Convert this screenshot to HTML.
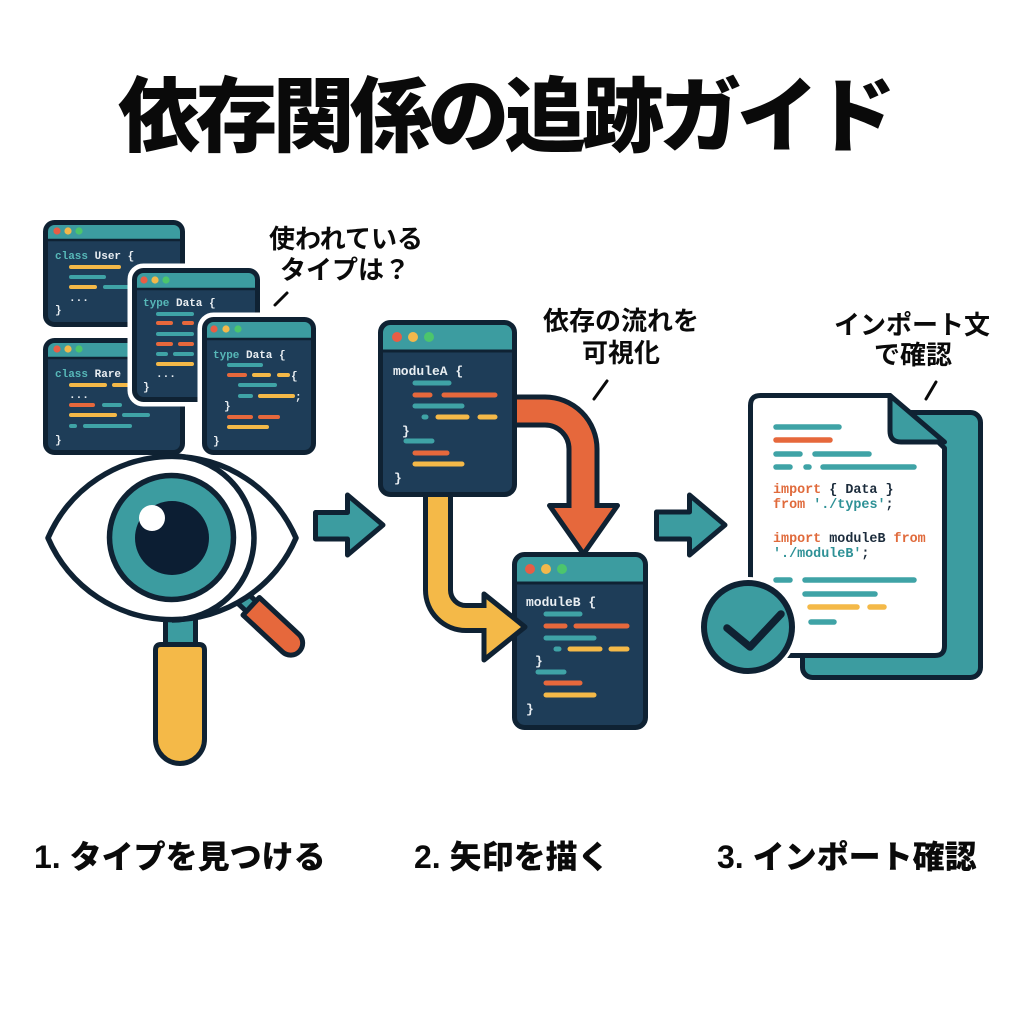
<!DOCTYPE html>
<html><head><meta charset="utf-8"><style>
html,body{margin:0;padding:0;background:#fff;}
svg{display:block;}
.jp{font-family:"Liberation Sans","Noto Sans CJK JP",sans-serif;}
.mono{font-family:"Liberation Mono","DejaVu Sans Mono",monospace;font-weight:bold;}
</style></head><body>
<svg width="1024" height="1024" viewBox="0 0 1024 1024" xmlns="http://www.w3.org/2000/svg">
<defs>
<clipPath id="c1"><rect x="45.5" y="222.5" width="137" height="102" rx="9"/></clipPath>
<clipPath id="c2"><rect x="45.5" y="340.5" width="137" height="112" rx="9"/></clipPath>
<clipPath id="c3"><rect x="134.5" y="270.5" width="123" height="129" rx="9"/></clipPath>
<clipPath id="c4"><rect x="204.5" y="319.5" width="109" height="133" rx="9"/></clipPath>
<clipPath id="ca"><rect x="380.5" y="322.5" width="134" height="172" rx="10"/></clipPath>
<clipPath id="cb"><rect x="514.5" y="554.5" width="131" height="173" rx="10"/></clipPath>
</defs>
<rect width="1024" height="1024" fill="#ffffff"/>

<!-- Title -->
<text class="jp" x="118" y="145" font-size="82" font-weight="900" fill="#0a0a0a" textLength="778" lengthAdjust="spacing">依存関係の追跡ガイド</text>

<!-- ===== Window 1 ===== -->
<g clip-path="url(#c1)">
<rect x="45.5" y="222.5" width="137" height="102" fill="#1e3d58"/>
<rect x="45.5" y="222.5" width="137" height="17.5" fill="#3c9ca0"/>
<line x1="44" y1="240" x2="184" y2="240" stroke="#0f2233" stroke-width="2.5"/>
</g>
<rect x="45.5" y="222.5" width="137" height="102" rx="9" fill="none" stroke="#0f2233" stroke-width="5"/>
<circle cx="57" cy="231" r="3.6" fill="#e85d45"/><circle cx="68" cy="231" r="3.6" fill="#f2b84b"/><circle cx="79" cy="231" r="3.6" fill="#4cc56c"/>
<text class="mono" x="55" y="259" font-size="11" fill="#e9eef2"><tspan fill="#57b8b8">class</tspan> User {</text>
<g stroke-linecap="round" stroke-width="4">
<line x1="71" y1="267" x2="119" y2="267" stroke="#f4b948"/>
<line x1="71" y1="277" x2="104" y2="277" stroke="#3fa3a6"/>
<line x1="71" y1="287" x2="95" y2="287" stroke="#f4b948"/>
<line x1="105" y1="287" x2="127" y2="287" stroke="#3fa3a6"/>
</g>
<text class="mono" x="69" y="301" font-size="11" fill="#e9eef2">...</text>
<text class="mono" x="55" y="313" font-size="11" fill="#e9eef2">}</text>

<!-- ===== Window 2 ===== -->
<g clip-path="url(#c2)">
<rect x="45.5" y="340.5" width="137" height="112" fill="#1e3d58"/>
<rect x="45.5" y="340.5" width="137" height="17.5" fill="#3c9ca0"/>
<line x1="44" y1="358" x2="184" y2="358" stroke="#0f2233" stroke-width="2.5"/>
</g>
<rect x="45.5" y="340.5" width="137" height="112" rx="9" fill="none" stroke="#0f2233" stroke-width="5"/>
<circle cx="57" cy="349" r="3.6" fill="#e85d45"/><circle cx="68" cy="349" r="3.6" fill="#f2b84b"/><circle cx="79" cy="349" r="3.6" fill="#4cc56c"/>
<text class="mono" x="55" y="377" font-size="11" fill="#e9eef2"><tspan fill="#57b8b8">class</tspan> Rare</text>
<g stroke-linecap="round" stroke-width="4">
<line x1="71" y1="385" x2="105" y2="385" stroke="#f4b948"/>
<line x1="114" y1="385" x2="128" y2="385" stroke="#f4b948"/>
<line x1="71" y1="405" x2="93" y2="405" stroke="#e6683c"/>
<line x1="104" y1="405" x2="120" y2="405" stroke="#3fa3a6"/>
<line x1="71" y1="415" x2="115" y2="415" stroke="#f4b948"/>
<line x1="124" y1="415" x2="148" y2="415" stroke="#3fa3a6"/>
<line x1="71" y1="426" x2="75" y2="426" stroke="#3fa3a6"/>
<line x1="85" y1="426" x2="130" y2="426" stroke="#3fa3a6"/>
</g>
<text class="mono" x="69" y="398" font-size="11" fill="#e9eef2">...</text>
<text class="mono" x="55" y="443" font-size="11" fill="#e9eef2">}</text>

<!-- ===== Window 3 ===== -->
<rect x="134.5" y="270.5" width="123" height="129" rx="9" fill="#fff" stroke="#fff" stroke-width="14"/>
<g clip-path="url(#c3)">
<rect x="134.5" y="270.5" width="123" height="129" fill="#1e3d58"/>
<rect x="134.5" y="270.5" width="123" height="18.5" fill="#3c9ca0"/>
<line x1="133" y1="289" x2="259" y2="289" stroke="#0f2233" stroke-width="2.5"/>
</g>
<rect x="134.5" y="270.5" width="123" height="129" rx="9" fill="none" stroke="#0f2233" stroke-width="5"/>
<circle cx="144" cy="280" r="3.6" fill="#e85d45"/><circle cx="155" cy="280" r="3.6" fill="#f2b84b"/><circle cx="166" cy="280" r="3.6" fill="#4cc56c"/>
<text class="mono" x="143" y="306" font-size="11" fill="#e9eef2"><tspan fill="#57b8b8">type</tspan> Data {</text>
<g stroke-linecap="round" stroke-width="4">
<line x1="158" y1="314" x2="192" y2="314" stroke="#3fa3a6"/>
<line x1="158" y1="323" x2="171" y2="323" stroke="#e6683c"/>
<line x1="184" y1="323" x2="192" y2="323" stroke="#e6683c"/>
<line x1="158" y1="334" x2="192" y2="334" stroke="#3fa3a6"/>
<line x1="158" y1="344" x2="171" y2="344" stroke="#e6683c"/>
<line x1="180" y1="344" x2="192" y2="344" stroke="#e6683c"/>
<line x1="158" y1="354" x2="166" y2="354" stroke="#3fa3a6"/>
<line x1="175" y1="354" x2="192" y2="354" stroke="#3fa3a6"/>
<line x1="158" y1="364" x2="192" y2="364" stroke="#f4b948"/>
</g>
<text class="mono" x="156" y="377" font-size="11" fill="#e9eef2">...</text>
<text class="mono" x="143" y="390" font-size="11" fill="#e9eef2">}</text>

<!-- ===== Window 4 ===== -->
<rect x="204.5" y="319.5" width="109" height="133" rx="9" fill="#fff" stroke="#fff" stroke-width="14"/>
<g clip-path="url(#c4)">
<rect x="204.5" y="319.5" width="109" height="133" fill="#1e3d58"/>
<rect x="204.5" y="319.5" width="109" height="19.5" fill="#3c9ca0"/>
<line x1="203" y1="339" x2="315" y2="339" stroke="#0f2233" stroke-width="2.5"/>
</g>
<rect x="204.5" y="319.5" width="109" height="133" rx="9" fill="none" stroke="#0f2233" stroke-width="5"/>
<circle cx="214" cy="329" r="3.6" fill="#e85d45"/><circle cx="226" cy="329" r="3.6" fill="#f2b84b"/><circle cx="238" cy="329" r="3.6" fill="#4cc56c"/>
<text class="mono" x="213" y="358" font-size="11" fill="#e9eef2"><tspan fill="#57b8b8">type</tspan> Data {</text>
<g stroke-linecap="round" stroke-width="4">
<line x1="229" y1="365" x2="261" y2="365" stroke="#3fa3a6"/>
<line x1="229" y1="375" x2="245" y2="375" stroke="#e6683c"/>
<line x1="254" y1="375" x2="269" y2="375" stroke="#f4b948"/>
<line x1="279" y1="375" x2="288" y2="375" stroke="#f4b948"/>
<line x1="240" y1="385" x2="275" y2="385" stroke="#3fa3a6"/>
<line x1="240" y1="396" x2="251" y2="396" stroke="#3fa3a6"/>
<line x1="260" y1="396" x2="293" y2="396" stroke="#f4b948"/>
<line x1="229" y1="417" x2="251" y2="417" stroke="#e6683c"/>
<line x1="260" y1="417" x2="278" y2="417" stroke="#e6683c"/>
<line x1="229" y1="427" x2="267" y2="427" stroke="#f4b948"/>
</g>
<text class="mono" x="291" y="379" font-size="11" fill="#e9eef2">{</text>
<text class="mono" x="295" y="400" font-size="11" fill="#e9eef2">;</text>
<text class="mono" x="224" y="409" font-size="11" fill="#e9eef2">}</text>
<text class="mono" x="213" y="444" font-size="11" fill="#e9eef2">}</text>

<!-- ===== Eye / magnifier ===== -->
<!-- orange side handle -->
<g transform="translate(238,594) rotate(43)">
<rect x="-2" y="-7" width="22" height="14" fill="#3c9ca0" stroke="#0f2233" stroke-width="5"/>
<path d="M18 -12 H72 A12 12 0 0 1 72 12 H18 Z" fill="#e6683c" stroke="#0f2233" stroke-width="5" stroke-linejoin="round"/>
</g>
<!-- vertical handle -->
<rect x="165.5" y="612" width="30" height="34" fill="#3c9ca0" stroke="#0f2233" stroke-width="5"/>
<path d="M155.5 650 Q155.5 644.5 161 644.5 H199 Q204.5 644.5 204.5 650 V739 A24.5 24.5 0 0 1 155.5 739 Z" fill="#f4b948" stroke="#0f2233" stroke-width="5" stroke-linejoin="round"/>
<!-- almond -->
<path d="M48 538 A135 135 0 0 1 296 538 A135 135 0 0 1 48 538 Z" fill="#fff" stroke="#0f2233" stroke-width="5.5" stroke-linejoin="round"/>
<!-- lens right arc -->
<path d="M172 456 A82 82 0 0 1 172 620" fill="none" stroke="#0f2233" stroke-width="5.5"/>
<!-- iris -->
<circle cx="171.5" cy="537.5" r="62" fill="#3c9ca0" stroke="#0f2233" stroke-width="5.5"/>
<circle cx="172" cy="538" r="37" fill="#0c1e33"/>
<circle cx="152" cy="518" r="13" fill="#ffffff"/>

<!-- Teal arrows -->
<path d="M315.5 512.5 H347.5 V495 L383 525 L347.5 555 V539 H315.5 Z" fill="#3c9ca0" stroke="#0f2233" stroke-width="5" stroke-linejoin="round"/>
<path d="M656.5 512 H689.5 V495 L725 525 L689.5 555 V539 H656.5 Z" fill="#3c9ca0" stroke="#0f2233" stroke-width="5" stroke-linejoin="round"/>

<!-- ===== moduleB ===== -->
<g clip-path="url(#cb)">
<rect x="514.5" y="554.5" width="131" height="173" fill="#1e3d58"/>
<rect x="514.5" y="554.5" width="131" height="28.5" fill="#3c9ca0"/>
<line x1="513" y1="583" x2="647" y2="583" stroke="#0f2233" stroke-width="3"/>
</g>
<rect x="514.5" y="554.5" width="131" height="173" rx="10" fill="none" stroke="#0f2233" stroke-width="5"/>
<circle cx="530" cy="569" r="5" fill="#e85d45"/><circle cx="546" cy="569" r="5" fill="#f2b84b"/><circle cx="562" cy="569" r="5" fill="#4cc56c"/>
<text class="mono" x="526" y="606" font-size="13" fill="#e9eef2">moduleB {</text>
<g stroke-linecap="round" stroke-width="5">
<line x1="546" y1="614" x2="580" y2="614" stroke="#3fa3a6"/>
<line x1="546" y1="626" x2="565" y2="626" stroke="#e6683c"/>
<line x1="576" y1="626" x2="627" y2="626" stroke="#e6683c"/>
<line x1="546" y1="638" x2="594" y2="638" stroke="#3fa3a6"/>
<line x1="556" y1="649" x2="559" y2="649" stroke="#3fa3a6"/>
<line x1="570" y1="649" x2="600" y2="649" stroke="#f4b948"/>
<line x1="611" y1="649" x2="627" y2="649" stroke="#f4b948"/>
<line x1="538" y1="672" x2="564" y2="672" stroke="#3fa3a6"/>
<line x1="546" y1="683" x2="580" y2="683" stroke="#e6683c"/>
<line x1="546" y1="695" x2="594" y2="695" stroke="#f4b948"/>
</g>
<text class="mono" x="535" y="665" font-size="13" fill="#e9eef2">}</text>
<text class="mono" x="526" y="713" font-size="13" fill="#e9eef2">}</text>

<!-- Orange arrow -->
<path d="M510 411 H545 A38 38 0 0 1 583 449 V507" fill="none" stroke="#0f2233" stroke-width="33"/>
<polygon points="549.5,505.5 617.5,505.5 583.5,554" fill="#e6683c" stroke="#0f2233" stroke-width="5" stroke-linejoin="round"/>
<path d="M510 411 H545 A38 38 0 0 1 583 449 V512" fill="none" stroke="#e6683c" stroke-width="23"/>

<!-- Yellow arrow -->
<path d="M438 488 V590 A28 28 0 0 0 466 618 H487" fill="none" stroke="#0f2233" stroke-width="30"/>
<polygon points="484,594 484,660 525,627" fill="#f4b948" stroke="#0f2233" stroke-width="5" stroke-linejoin="round"/>
<path d="M438 488 V590 A28 28 0 0 0 466 618 H492" fill="none" stroke="#f4b948" stroke-width="20"/>

<!-- ===== moduleA ===== -->
<g clip-path="url(#ca)">
<rect x="380.5" y="322.5" width="134" height="172" fill="#1e3d58"/>
<rect x="380.5" y="322.5" width="134" height="28.5" fill="#3c9ca0"/>
<line x1="379" y1="351" x2="516" y2="351" stroke="#0f2233" stroke-width="3"/>
</g>
<rect x="380.5" y="322.5" width="134" height="172" rx="10" fill="none" stroke="#0f2233" stroke-width="5"/>
<circle cx="397" cy="337" r="5" fill="#e85d45"/><circle cx="413" cy="337" r="5" fill="#f2b84b"/><circle cx="429" cy="337" r="5" fill="#4cc56c"/>
<text class="mono" x="393" y="375" font-size="13" fill="#e9eef2">moduleA {</text>
<g stroke-linecap="round" stroke-width="5">
<line x1="415" y1="383" x2="449" y2="383" stroke="#3fa3a6"/>
<line x1="415" y1="395" x2="430" y2="395" stroke="#e6683c"/>
<line x1="444" y1="395" x2="495" y2="395" stroke="#e6683c"/>
<line x1="415" y1="406" x2="462" y2="406" stroke="#3fa3a6"/>
<line x1="424" y1="417" x2="426" y2="417" stroke="#3fa3a6"/>
<line x1="438" y1="417" x2="467" y2="417" stroke="#f4b948"/>
<line x1="480" y1="417" x2="495" y2="417" stroke="#f4b948"/>
<line x1="406" y1="441" x2="432" y2="441" stroke="#3fa3a6"/>
<line x1="415" y1="453" x2="447" y2="453" stroke="#e6683c"/>
<line x1="415" y1="464" x2="462" y2="464" stroke="#f4b948"/>
</g>
<text class="mono" x="402" y="435" font-size="13" fill="#e9eef2">}</text>
<text class="mono" x="394" y="482" font-size="13" fill="#e9eef2">}</text>

<!-- ===== Document ===== -->
<rect x="802.5" y="412.5" width="178" height="265" rx="10" fill="#3c9ca0" stroke="#0f2233" stroke-width="5"/>
<path d="M750.5 405.5 Q750.5 395.5 760.5 395.5 H890 L944.5 448 V646 Q944.5 655.5 935 655.5 H760.5 Q750.5 655.5 750.5 645.5 Z" fill="#ffffff" stroke="#0f2233" stroke-width="5" stroke-linejoin="round"/>
<path d="M890 395.5 V431 Q890 442 901 442 H944.5 Z" fill="#3c9ca0" stroke="#0f2233" stroke-width="5" stroke-linejoin="round"/>
<g stroke-linecap="round" stroke-width="5.5">
<line x1="776" y1="427" x2="839" y2="427" stroke="#3fa3a6"/>
<line x1="776" y1="440" x2="830" y2="440" stroke="#e6683c"/>
<line x1="776" y1="454" x2="800" y2="454" stroke="#3fa3a6"/>
<line x1="815" y1="454" x2="869" y2="454" stroke="#3fa3a6"/>
<line x1="776" y1="467" x2="790" y2="467" stroke="#3fa3a6"/>
<line x1="806" y1="467" x2="809" y2="467" stroke="#3fa3a6"/>
<line x1="823" y1="467" x2="914" y2="467" stroke="#3fa3a6"/>
<line x1="776" y1="580" x2="790" y2="580" stroke="#3fa3a6"/>
<line x1="805" y1="580" x2="914" y2="580" stroke="#3fa3a6"/>
<line x1="805" y1="594" x2="875" y2="594" stroke="#3fa3a6"/>
<line x1="810" y1="607" x2="857" y2="607" stroke="#f4b948"/>
<line x1="870" y1="607" x2="884" y2="607" stroke="#f4b948"/>
<line x1="811" y1="622" x2="834" y2="622" stroke="#3fa3a6"/>
</g>
<text class="mono" x="773" y="493" font-size="13.4" fill="#1c2c3c"><tspan fill="#e06a3b">import</tspan> { Data }</text>
<text class="mono" x="773" y="508" font-size="13.4" fill="#1c2c3c"><tspan fill="#e06a3b">from</tspan> <tspan fill="#2e9196">'./types'</tspan>;</text>
<text class="mono" x="773" y="542" font-size="13.4" fill="#1c2c3c"><tspan fill="#e06a3b">import</tspan> moduleB <tspan fill="#e06a3b">from</tspan></text>
<text class="mono" x="773" y="557" font-size="13.4" fill="#1c2c3c"><tspan fill="#2e9196">'./moduleB'</tspan>;</text>
<!-- check circle -->
<circle cx="748" cy="627" r="44" fill="#3c9ca0" stroke="#ffffff" stroke-width="12"/>
<circle cx="748" cy="627" r="44" fill="#3c9ca0" stroke="#0f2233" stroke-width="6"/>
<polyline points="727,628 750,647 781,614" fill="none" stroke="#0f2233" stroke-width="7.5" stroke-linecap="round" stroke-linejoin="round"/>

<!-- Callouts -->
<g class="jp" font-weight="bold" font-size="26" fill="#0a0a0a" text-anchor="middle">
<text x="346" y="248">使われている</text>
<text x="345" y="279">タイプは？</text>
<text x="621" y="330">依存の流れを</text>
<text x="621" y="362">可視化</text>
<text x="912" y="334">インポート文</text>
<text x="913" y="364">で確認</text>
</g>
<g stroke="#0a0a0a" stroke-width="3" stroke-linecap="round">
<line x1="275" y1="305" x2="287" y2="293"/>
<line x1="594" y1="399" x2="607" y2="381"/>
<line x1="926" y1="399" x2="936" y2="382"/>
</g>

<!-- Bottom labels -->
<g class="jp" font-weight="900" font-size="32" fill="#0a0a0a">
<text x="34" y="868">1. タイプを見つける</text>
<text x="414" y="868">2. 矢印を描く</text>
<text x="717" y="868">3. インポート確認</text>
</g>
</svg>
</body></html>
